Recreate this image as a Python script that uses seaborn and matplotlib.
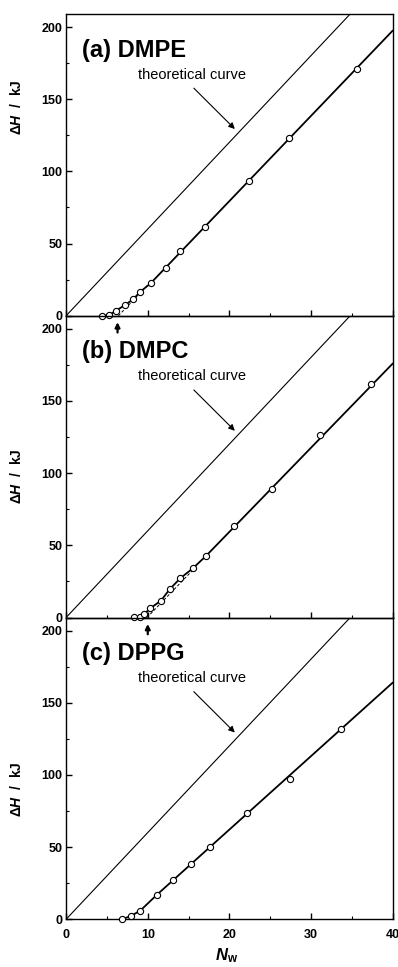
import numpy as np
import pandas as pd
import seaborn as sns
import matplotlib.pyplot as plt
from matplotlib.ticker import MultipleLocator

sns.set_style('ticks')
plt.rcParams.update({
    'font.family': ['Liberation Sans', 'DejaVu Sans'],
    'font.weight': 'bold',
    'mathtext.fontset': 'custom',
    'mathtext.rm': 'Liberation Sans:bold',
    'mathtext.bf': 'Liberation Sans:bold',
    'mathtext.it': 'Liberation Sans:italic:bold',
    'mathtext.bfit': 'Liberation Sans:italic:bold',
    'axes.linewidth': 1.0,
    'text.color': 'black',
    'axes.labelcolor': 'black',
    'axes.edgecolor': 'black',
    'xtick.color': 'black',
    'ytick.color': 'black',
})

# theoretical curve: 6.01 kJ per water molecule
theory_nw = [0, 40]
theory_dh = [0, 240.4]

# (a) DMPE
dmpe_nw = [4.4, 5.3, 6.1, 7.2, 8.2, 9.1, 10.35, 12.2, 14.0, 17.0, 22.4, 27.3, 35.6]
dmpe_dh = [0.0, 0.5, 3.5, 7.4, 11.4, 16.7, 22.5, 33.0, 45.0, 61.6, 93.4, 123.0, 171.0]
dmpe_line_nw = [4.4, 5.3, 6.1, 7.2, 8.2, 9.1, 10.35, 40]
dmpe_line_dh = [0.0, 0.5, 3.5, 7.4, 11.4, 16.7, 22.5, 197.6]
dmpe_dash_nw = [6.4, 10.0]
dmpe_dash_dh = [0.0, 21.2]
dmpe_onset = 6.3

# (b) DMPC
dmpc_nw = [8.26, 9.08, 9.6, 10.3, 11.6, 12.7, 14.0, 15.5, 17.1, 20.5, 25.2, 31.1, 37.3]
dmpc_dh = [0.3, 0.3, 2.5, 6.4, 11.6, 19.7, 27.3, 34.0, 42.5, 63.2, 89.0, 126.1, 161.5]
dmpc_line_nw = [8.26, 9.08, 9.6, 10.3, 11.6, 12.7, 14.0, 15.5, 17.1, 40]
dmpc_line_dh = [0.3, 0.3, 2.5, 6.4, 11.6, 19.7, 27.3, 34.0, 42.5, 176.0]
dmpc_dash_nw = [9.9, 15.5]
dmpc_dash_dh = [0.0, 32.8]
dmpc_onset = 10.0

# (c) DPPG
dppg_nw = [6.83, 7.93, 9.08, 11.1, 13.05, 15.3, 17.67, 22.2, 27.4, 33.7]
dppg_dh = [0.0, 2.3, 6.0, 16.9, 26.9, 38.0, 50.2, 73.4, 97.5, 131.7]
dppg_line_nw = [6.83, 7.93, 9.08, 11.1, 40]
dppg_line_dh = [0.0, 2.3, 6.0, 16.9, 164.0]

panels = [
    ('(a) DMPE', dmpe_nw, dmpe_dh, dmpe_line_nw, dmpe_line_dh, dmpe_dash_nw, dmpe_dash_dh, dmpe_onset, 0.69),
    ('(b) DMPC', dmpc_nw, dmpc_dh, dmpc_line_nw, dmpc_line_dh, dmpc_dash_nw, dmpc_dash_dh, dmpc_onset, 0.47),
    ('(c) DPPG', dppg_nw, dppg_dh, dppg_line_nw, dppg_line_dh, None, None, None, 0.43),
]

fig, axes = plt.subplots(3, 1, figsize=(3.98, 9.67), dpi=100, sharex=True)
fig.subplots_adjust(left=0.166, right=0.987, bottom=0.0493, top=0.9855, hspace=0)

for ax, (title, nw, dh, lnw, ldh, dnw, ddh, onset, ylab_pos) in zip(axes, panels):
    ax.patch.set_visible(False)
    sns.lineplot(x=theory_nw, y=theory_dh, ax=ax, color='black', lw=0.8, sort=False, estimator=None)
    sns.lineplot(x=lnw, y=ldh, ax=ax, color='black', lw=1.3, sort=False, estimator=None)
    if dnw is not None:
        ax.plot(dnw, ddh, color='black', lw=0.7, ls=(0, (3, 2)))
    sns.scatterplot(x=nw, y=dh, ax=ax, marker='o', s=20, facecolor='white',
                    edgecolor='black', linewidth=0.8, zorder=5, clip_on=False)
    if onset is not None:
        ax.annotate('', xy=(onset, -2.5), xytext=(onset, -13.5),
                    arrowprops=dict(arrowstyle='-|>', lw=1.6, color='black', mutation_scale=7),
                    annotation_clip=False)

    ax.text(2.0, 184, title, fontsize=17, fontweight='bold', va='center', ha='left')
    ax.text(8.8, 167, 'theoretical curve', fontsize=10.5, fontweight='normal', va='center', ha='left')
    ax.annotate('', xy=(20.9, 128), xytext=(15.4, 159),
                arrowprops=dict(arrowstyle='-|>', lw=0.8, color='black', mutation_scale=9))

    ax.set_xlim(0, 40)
    ax.set_ylim(0, 209)
    ax.xaxis.set_major_locator(MultipleLocator(10))
    ax.xaxis.set_minor_locator(MultipleLocator(5))
    ax.yaxis.set_major_locator(MultipleLocator(50))
    ax.yaxis.set_minor_locator(MultipleLocator(25))
    ax.tick_params(axis='both', which='major', direction='in', length=4, width=1.0, labelsize=9)
    ax.tick_params(axis='both', which='minor', direction='in', length=2.5, width=0.8)
    ax.tick_params(axis='y', pad=2.5)
    ax.tick_params(axis='x', pad=7)
    for s in ['top', 'right']:
        ax.spines[s].set_visible(True)
    ax.set_ylabel(r'$\mathbf{\Delta}\mathbfit{H}$  /  kJ', fontsize=10, fontweight='bold')
    ax.yaxis.set_label_coords(-0.13, ylab_pos)
    for lab in ax.get_xticklabels() + ax.get_yticklabels():
        lab.set_fontweight('bold')

axes[-1].set_xlabel(r'$\mathbfit{N}_{\mathbf{w}}$', fontsize=12)
axes[-1].xaxis.set_label_coords(0.49, -0.09)

plt.savefig('out.png', dpi=100)
